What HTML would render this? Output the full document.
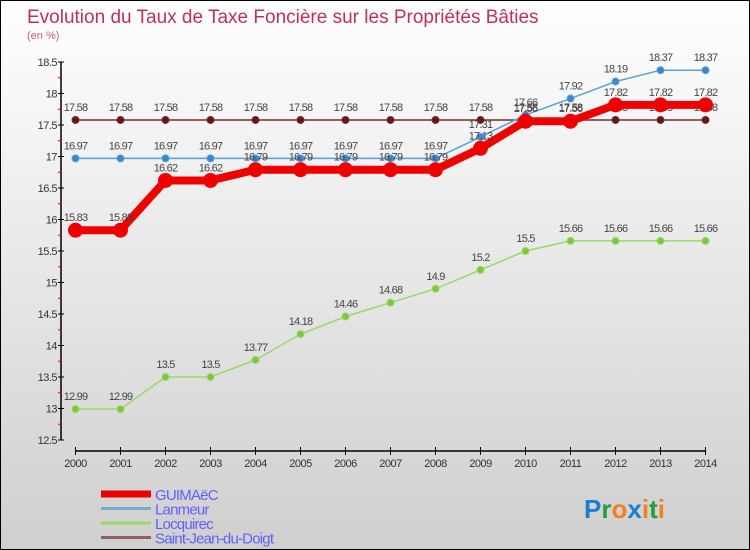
<!DOCTYPE html>
<html><head><meta charset="utf-8"><style>
body{margin:0}
#c{position:relative;width:748px;height:548px;border:1px solid #000;background:linear-gradient(#fff,#cfcfcf);font-family:"Liberation Sans",sans-serif;overflow:hidden}
</style></head><body>
<div id="c">
<svg width="748" height="548" id="s">
<text x="26" y="22" font-size="19" fill="#c0305a">Evolution du Taux de Taxe Foncière sur les Propriétés Bâties</text>
<text x="26" y="38" font-size="11" fill="#c0608a">(en %)</text>
</svg>
</div>
<script>
const years=[2000,2001,2002,2003,2004,2005,2006,2007,2008,2009,2010,2011,2012,2013,2014];
const guimaec=[15.83,15.83,16.62,16.62,16.79,16.79,16.79,16.79,16.79,17.13,17.56,17.56,17.82,17.82,17.82];
const lanmeur=[16.97,16.97,16.97,16.97,16.97,16.97,16.97,16.97,16.97,17.31,17.66,17.92,18.19,18.37,18.37];
const locquirec=[12.99,12.99,13.5,13.5,13.77,14.18,14.46,14.68,14.9,15.2,15.5,15.66,15.66,15.66,15.66];
const sjdd=[17.58,17.58,17.58,17.58,17.58,17.58,17.58,17.58,17.58,17.58,17.58,17.58,17.58,17.58,17.58];
const yTicks=[12.5,13,13.5,14,14.5,15,15.5,16,16.5,17,17.5,18,18.5];
const svg=document.getElementById('s');const NS='http://www.w3.org/2000/svg';
const X=i=>74.5+i*45, Y=v=>439-(v-12.5)*63;
function el(t,a,p){const e=document.createElementNS(NS,t);for(const k in a)e.setAttribute(k,a[k]);(p||svg).appendChild(e);return e;}
// axes
let ya=el('line',{x1:60,y1:Y(18.5),x2:60,y2:Y(12.5),stroke:'#000','stroke-width':1.5});


let xa=el('line',{x1:X(0),y1:450,x2:X(14),y2:450,stroke:'#000','stroke-width':1.5});


yTicks.forEach((v,i)=>{
 el('line',{x1:57,x2:63,y1:Y(v),y2:Y(v),stroke:'#000'});
 if(i<yTicks.length-1)el('line',{x1:57,x2:60,y1:Y(v+0.25),y2:Y(v+0.25),stroke:'#e00'});
 const t=el('text',{x:56,y:Y(v)+4,'font-size':11,'text-anchor':'end',fill:'#333','letter-spacing':'-0.5'});t.textContent=v;
 
 
});
years.forEach((yr,i)=>{
 el('line',{x1:X(i),x2:X(i),y1:446,y2:454,stroke:'#000'});
 const t=el('text',{x:X(i),y:466,'font-size':11,'text-anchor':'middle',fill:'#333','letter-spacing':'-0.5'});t.textContent=yr;
 
 
});
function series(d,name,lc,pc,lw,r){
 const g=el('g',{});
 
 
 el('polyline',{points:d.map((v,i)=>X(i)+','+Y(v)).join(' '),fill:'none',stroke:lc,'stroke-width':lw},g);
 d.forEach((v,i)=>{
  const c=el('circle',{cx:X(i),cy:Y(v),r:r,fill:pc,stroke:lc,'stroke-width':1},g);
  
  
  const t=el('text',{x:X(i),y:Y(v)-9,'font-size':11,'text-anchor':'middle',fill:'#444','letter-spacing':'-0.8'},g);t.textContent=v;
 });
}
series(locquirec,'series-locquirec','#9ad86a','#7cc83a',1.5,3.5);
series(sjdd,'series-saint-jean-du-doigt','#7a2a2a','#601818',1.5,3.5);
series(lanmeur,'series-lanmeur','#5aa0d8','#3a88c8',1.5,3.5);
series(guimaec,'series-guimaec','#ee0000','#ee0000',8,7);
// legend
const leg=[['GUIMAëC','#ee0000',7],['Lanmeur','#7aaad0',3],['Locquirec','#9ad86a',3],['Saint-Jean-du-Doigt','#906060',3]];
leg.forEach((l,i)=>{
 const y=493+i*14.5;
 const g=el('g',{});
 
 
 el('line',{x1:100,x2:150,y1:y,y2:y,stroke:l[1],'stroke-width':l[2]},g);
 const t=el('text',{x:154,y:y+6,'font-size':15,fill:'#6060ff','letter-spacing':'-0.8'},g);t.textContent=l[0];
});
const lg=el('text',{x:583,y:517,'font-size':26,'font-weight':'bold'});


[['P','#1a7fd0'],['r','#2a9a3a'],['o','#f08020'],['x','#1a7fd0'],['i','#f08020'],['t','#2a9a3a'],['i','#f08020']].forEach(p=>{const s=el('tspan',{fill:p[1]},lg);s.textContent=p[0];});
</script>
</body></html>
